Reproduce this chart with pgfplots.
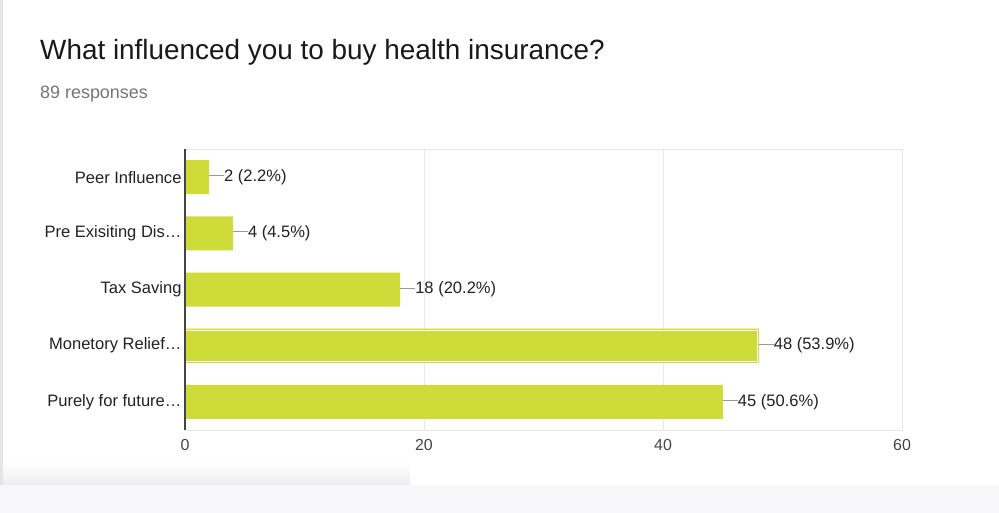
\documentclass[border=0pt]{standalone}
\usepackage{fontspec}
\setmainfont{Liberation Sans}
\usepackage{pgfplots}
\pgfplotsset{compat=1.18}

\definecolor{barlime}{HTML}{CDDC39}
\definecolor{gridgray}{HTML}{E8E8E8}
\definecolor{labelgray}{HTML}{222222}
\definecolor{tickgray}{HTML}{444444}
\definecolor{subgray}{HTML}{757575}
\definecolor{leadgray}{HTML}{999999}
\definecolor{pagebg}{HTML}{F8F8FB}
\definecolor{edgegray}{HTML}{E6E6E6}

\begin{document}
\begin{tikzpicture}
\useasboundingbox (0,0) rectangle (999bp,513bp);
% card and page background
\fill[pagebg] (0,0) rectangle (999bp,513bp);
\fill[white] (3bp,28bp) rectangle (999bp,513bp);
\fill[edgegray] (0,28bp) rectangle (3bp,513bp);
\shade[top color=white, bottom color=black!7] (3bp,28bp) rectangle (410bp,52bp);

\node[anchor=base west, inner sep=0pt, font=\fontsize{28}{30}\selectfont, text=black!90]
  at (40bp,453bp) {What influenced you to buy health insurance?};
\node[anchor=base west, inner sep=0pt, font=\fontsize{18}{20}\selectfont, text=subgray]
  at (40bp,414bp) {89 responses};

\begin{axis}[
    at={(185bp,83bp)}, anchor=south west,
    scale only axis,
    width=717bp, height=281bp,
    xbar,
    bar width=34bp,
    xmin=0, xmax=60,
    ymin=0.5, ymax=5.5,
    y dir=reverse,
    xtick={0,20,40,60},
    ytick={1,2,3,4,5},
    yticklabels={Peer Influence, Pre Exisiting Dis…, Tax Saving, Monetory Relief…, Purely for future…},
    /pgf/number format/assume math mode=true,
    ticklabel style={font=\fontsize{16}{18}\selectfont},
    xticklabel style={text=tickgray, yshift=-6bp},
    yticklabel style={text=labelgray, font=\fontsize{16.6}{18}\selectfont},
    major tick length=0pt,
    xmajorgrids=true,
    major grid style={draw=gridgray, line width=0.8bp},
    axis line style={draw=edgegray, line width=0.8bp},
    clip=false,
  ]
% responses per reason
\addplot[
  fill=barlime, draw=none, bar shift=0pt,
  point meta=explicit symbolic,
  nodes near coords={\textcolor{leadgray}{\rule[0.33em]{15bp}{0.8bp}}\pgfplotspointmeta},
  every node near coord/.append style={anchor=west, inner sep=0pt,
    font=\fontsize{16.6}{18}\selectfont, text=labelgray},
] coordinates {
  (2,1)  [2 (2.2\%)]
  (4,2)  [4 (4.5\%)]
  (18,3) [18 (20.2\%)]
  (48,4) [48 (53.9\%)]
  (45,5) [45 (50.6\%)]
};
% highlighted bar (white inner outline)
\addplot[
  fill=barlime, draw=barlime, line width=0.8bp,
  double=white, double distance=0.9bp,
  bar width=31.4bp, bar shift=0pt, forget plot,
] coordinates {(47.9,4)};
% dark baseline at zero
\addplot[sharp plot, draw=tickgray, line width=1.2bp, forget plot]
  coordinates {(0,0.5) (0,5.5)};
\end{axis}
\end{tikzpicture}
\end{document}
